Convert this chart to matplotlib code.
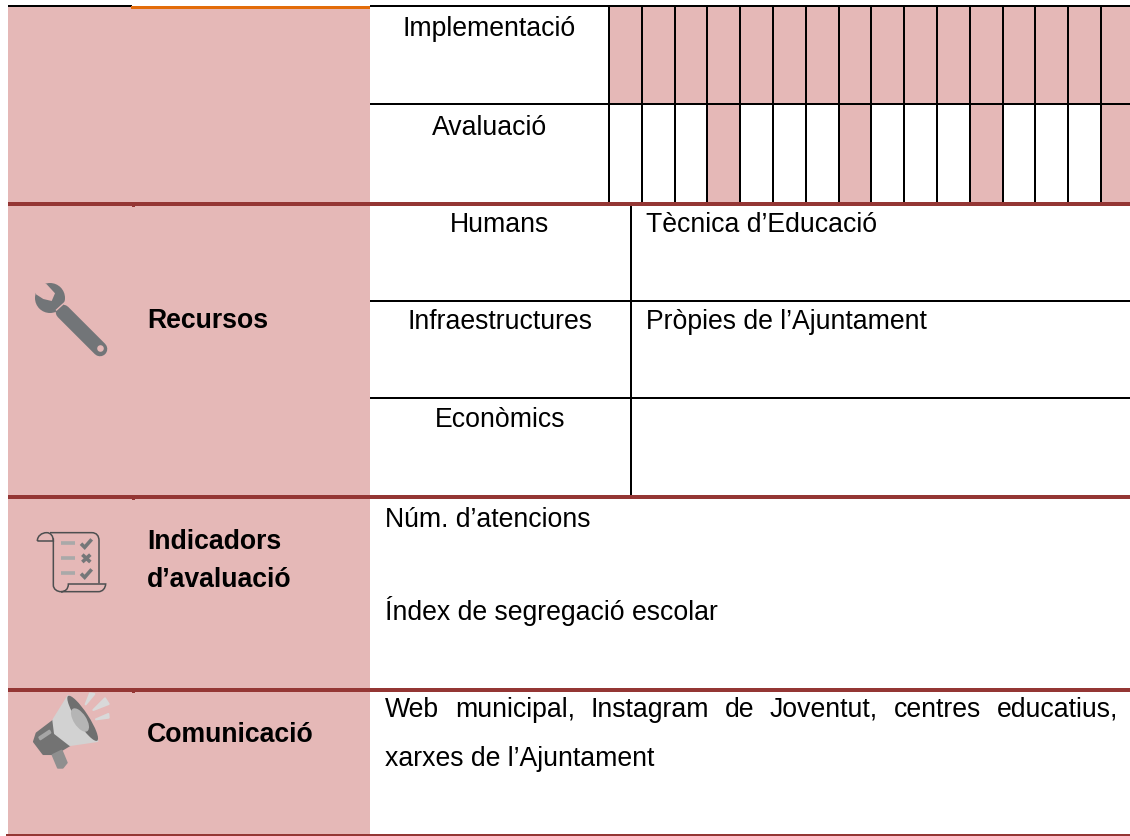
import numpy as np
import matplotlib
matplotlib.use("Agg")
import matplotlib.pyplot as plt
from matplotlib.patches import Rectangle, Polygon, Circle, Ellipse, PathPatch
from matplotlib.path import Path

PINK = "#E5B8B7"; MAROON = "#943634"; ORANGE = "#E36C0A"; GREY = "#727578"

gantt_rows = ["Implementació", "Avaluació"]
gantt_impl = [1]*16
gantt_eval = [0,0,0,1,0,0,0,1,0,0,0,1,0,0,0,1]
resources = ["Humans", "Infraestructures", "Econòmics"]
resource_values = ["Tècnica d’Educació", "Pròpies de l’Ajuntament", ""]
section_labels = ["Recursos", "Indicadors\nd’avaluació", "Comunicació"]
indicators = ["Núm. d’atencions", "Índex de segregació escolar"]
comm_line1 = "Web municipal, Instagram de Joventut, centres educatius,"
comm_line2 = "xarxes de l’Ajuntament"

FS = 19.2
plt.rcParams["font.family"] = ["Liberation Sans", "DejaVu Sans"]
fig = plt.figure(figsize=(11.30, 8.36), dpi=100)
ax = fig.add_axes([0, 0, 1, 1])
ax.set_xlim(0, 1130); ax.set_ylim(836, 0); ax.axis("off")

def hl(y, x0, x1, c, lw):
    ax.add_patch(Rectangle((x0, y-lw/2), x1-x0, lw, fc=c, ec="none", zorder=3))
def vl(x, y0, y1, c="black", lw=2):
    ax.add_patch(Rectangle((x-lw/2, y0), lw, y1-y0, fc=c, ec="none", zorder=3))

ax.add_patch(Rectangle((8, 6), 362, 829, fc=PINK, ec="none", zorder=1))

grid0, step = 609, 32.8
n = len(gantt_impl)
for row, (y0, y1, flags) in enumerate([(6, 104, gantt_impl), (104, 203, gantt_eval)]):
    for i, f in enumerate(flags):
        x0 = grid0 + i*step
        x1 = x0 + step if i < n-1 else 1130
        if f:
            ax.add_patch(Rectangle((x0, y0), x1-x0, y1-y0, fc=PINK, ec="none", zorder=1))
for i in range(n):
    vl(grid0 + i*step, 6, 203)

hl(6, 8, 132, "black", 2)
hl(7.5, 131, 370, ORANGE, 3)
hl(6, 370, 1130, "black", 2)
hl(104, 370, 1130, "black", 2)
hl(301, 370, 1130, "black", 2)
hl(398, 370, 1130, "black", 2)
vl(631, 205, 497)
for y in (203.5, 497, 690):
    hl(y, 8, 1130, MAROON, 4)
    ax.add_patch(Rectangle((132, y), 3, 3, fc=MAROON, ec="none", zorder=3))
hl(835, 6, 1130, MAROON, 1.2)

def T(x, y, s, ha="left", weight="normal"):
    return ax.text(x, y, s, ha=ha, va="baseline", fontsize=FS, fontweight=weight, color="black", zorder=5)

for s, y in zip(gantt_rows, (36, 135)):
    T(489.5, y, s, ha="center")
for s, v, y in zip(resources, resource_values, (232, 329, 427)):
    T(500, y, s, ha="center")
    if v:
        T(646, y, v)
T(147, 328, "Recursos", weight="bold")
lab = section_labels[1].split("\n")
T(147, 549, lab[0], weight="bold"); T(147, 587, lab[1], weight="bold")
T(147, 742, section_labels[2], weight="bold")
T(385, 527, indicators[0]); T(385, 620, indicators[1])

fig.canvas.draw()
r = fig.canvas.get_renderer()
words = comm_line1.split(" ")
arts = [T(385, 717, w) for w in words]
ws = [a.get_window_extent(r).width for a in arts]
gap = (1118-385-sum(ws))/(len(words)-1)
x = 385
for a, w in zip(arts, ws):
    a.set_x(x); x += w + gap
T(385, 766, comm_line2)

# wrench
ax.add_patch(Circle((50, 298), 15, fc=GREY, ec="none", zorder=4))
ax.add_patch(Polygon([(36,294.3),(43.3,299),(51.7,301),(55,293.3),(46.7,284.3),(36,278)], fc=PINK, ec="none", zorder=4))
ax.plot([63,100],[312,349], color=GREY, lw=10.5, solid_capstyle="round", zorder=4)
ax.plot([56.5,67.5],[310,300], color=PINK, lw=1.0, zorder=4)
ax.add_patch(Circle((100.5,348.5), 3.3, fc=PINK, ec="none", zorder=5))

# scroll
D = "#4d4f50"
M, L, C = Path.MOVETO, Path.LINETO, Path.CURVE4
def path(verts, codes=None, c=D, lw=1.1):
    verts = [(a/3, 510+b/3) for a, b in verts]
    ax.add_patch(PathPatch(Path(verts, codes), fc="none", ec=c, lw=lw, zorder=4))
path([(150,68),(275,68),(290,68),(297,78),(297,92),(297,220)], [M,L,C,C,C,L])
path([(112,93),(112,78),(125,68),(140,68),(152,68),(160,78),(160,93),(112,93)], [M,C,C,C,C,C,C,L])
path([(160,85),(160,225),(160,238),(172,245),(183,245),(195,245),(205,238),(205,222),(317,222),
      (316,235),(308,245),(295,245),(183,245)], [M,L,C,C,C,C,C,C,L,C,C,C,L])
for y, kind in zip((100, 145, 190), ("v", "x", "v")):
    path([(182,y),(226,y)], c="#a9a9a9", lw=2.6)
    if kind == "v":
        path([(243,y+1),(254,y+12),(275,y-12)], c="#757779", lw=2.6)
    else:
        path([(247,y-11),(271,y+11)], c="#757779", lw=2.6)
        path([(271,y-11),(247,y+11)], c="#757779", lw=2.6)

# megaphone
def poly(pts, fc, z=4):
    ax.add_patch(Polygon([(a/3, 680+b/3) for a, b in pts], fc=fc, ec=fc, lw=1.5, joinstyle="round", zorder=z))
poly([(160,122),(110,160),(102,185),(130,222),(165,222),(210,195)], "#737373")
poly([(158,225),(185,212),(200,248),(188,263),(174,263)], "#8f8f8f")
poly([(118,172),(148,152),(151,158),(121,178)], "#a6a6a6", 5)
poly([(205,48),(160,120),(165,160),(210,195),(292,183)], "#d2d2d2", 5)
ax.add_patch(Ellipse((248/3, 680+115/3), 160/3, 36/3, angle=57, fc="#6f6f6f", ec="none", zorder=6))
ax.add_patch(Ellipse((240/3, 680+120/3), 80/3, 38/3, angle=57, fc="#b5b5b5", ec="none", zorder=7))
poly([(257,73),(270,40),(283,42)], "#d9d9d9")
poly([(280,90),(315,55),(326,72)], "#d9d9d9")
poly([(288,118),(325,102),(326,113)], "#d9d9d9")

fig.savefig("out.png", dpi=100)
